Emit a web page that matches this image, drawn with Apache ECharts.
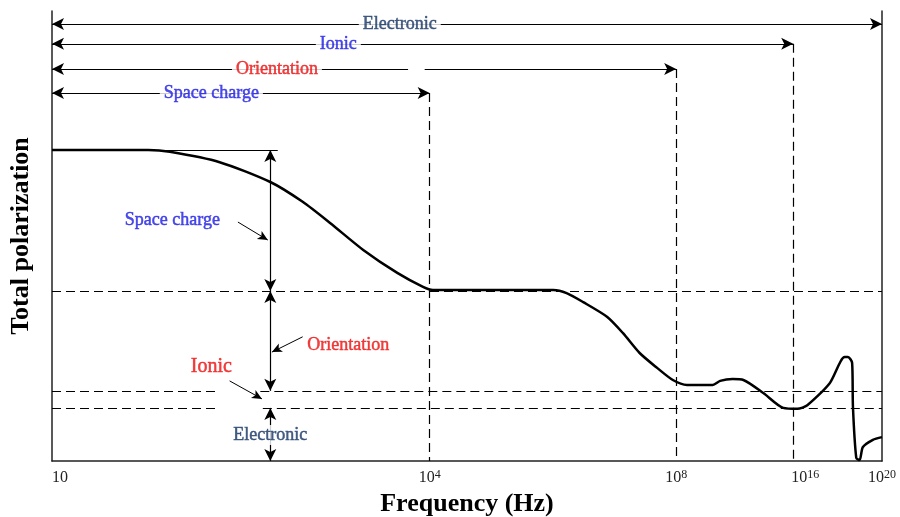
<!DOCTYPE html>
<html>
<head>
<meta charset="utf-8">
<script src="https://cdn.jsdelivr.net/npm/echarts@6/dist/echarts.min.js"></script>
<style>
  html, body { margin: 0; background: #fff; }
  #chart { width: 900px; height: 517px; }
</style>
</head>
<body>
<div id="chart"></div>
<script>
// schematic frequency position (0..100) vs total polarization (0..100)
const curveX = [0, 11.6, 14.2, 20.2, 26.3, 30.2, 33.5, 37.5, 41.6, 44.7, 45.9, 58.8, 60.4, 62.0, 64.0, 66.9, 68.8, 70.8, 72.9, 74.8, 76.5, 79.6, 80.5, 82.0, 83.3, 85.7, 88.1, 89.8, 91.0, 93.7, 95.5, 95.9, 96.4, 96.5, 96.9, 97.3, 97.7, 98.9, 100];
const curveY = [69.1, 69.1, 68.7, 66.4, 62.0, 57.6, 52.9, 46.9, 41.8, 38.7, 38.0, 38.0, 38.0, 37.3, 35.3, 32.0, 28.4, 24.0, 20.7, 18.0, 16.9, 16.9, 17.8, 18.2, 18.0, 15.1, 11.8, 11.6, 12.4, 17.3, 23.1, 23.1, 21.8, 12.0, 0.7, 0.2, 3.1, 4.7, 5.3];

// x-axis ticks: position and power of ten
const tickPos = [0, 45.5, 75.2, 89.3, 100];
const tickExp = [1, 4, 8, 16, 20];

// polarization levels
const levelSpace = 69.1, levelOrient = 37.8, levelIonic = 15.6, levelElec = 11.8;

// top ranges: name, end position, row height, label position
const rangeNames = ['Space charge', 'Orientation', 'Ionic', 'Electronic'];
const rangeEnd = [45.5, 75.2, 89.3, 100];
const rangeRow = [81.8, 87.1, 92.7, 97.1];
const rangeLabelX = [19.2, 27.1, 34.5, 41.9];
const rangeColor = ['#2020e6', '#ee1111', '#2020e6', '#1c3968'];

const arrowX = 26.3; // the vertical measuring arrows

const solid = { color: '#000', width: 1.2, type: 'solid' };
const dashed = { color: '#000', width: 1.2, type: [9, 5] };
const thin = { color: '#000', width: 1, type: 'solid' };

function seg(x1, y1, x2, y2, style, s1, s2, size) {
  return [
    { coord: [x1, y1], symbol: s1 || 'none', symbolSize: size || [9, 12] },
    { coord: [x2, y2], symbol: s2 || 'none', symbolSize: size || [9, 12], lineStyle: style }
  ];
}

const marks = [];
// top range arrows
rangeNames.forEach((n, i) => {
  if (n === 'Orientation') {
    marks.push(seg(0, rangeRow[i], 42.9, rangeRow[i], solid, 'arrow', 'none'));
    marks.push(seg(44.9, rangeRow[i], rangeEnd[i], rangeRow[i], solid, 'none', 'arrow'));
  } else {
    marks.push(seg(0, rangeRow[i], rangeEnd[i], rangeRow[i], solid, 'arrow', 'arrow'));
  }
});
// vertical dashed boundaries
for (let i = 0; i < 3; i++) marks.push(seg(rangeEnd[i], rangeRow[i], rangeEnd[i], 0, dashed));
// horizontal dashed levels
marks.push(seg(0, levelOrient, 100, levelOrient, dashed));
marks.push(seg(0, levelIonic, 20.0, levelIonic, dashed));
marks.push(seg(25.1, levelIonic, 100, levelIonic, dashed));
marks.push(seg(0, levelElec, 20.0, levelElec, dashed));
marks.push(seg(25.4, levelElec, 100, levelElec, dashed));
// top level line
marks.push(seg(0, levelSpace, 27.2, levelSpace, thin));
// vertical measuring arrows
marks.push(seg(arrowX, levelSpace, arrowX, levelOrient, solid, 'arrow', 'arrow'));
marks.push(seg(arrowX, levelOrient, arrowX, levelIonic, solid, 'arrow', 'arrow'));
marks.push(seg(arrowX, levelElec, arrowX, 0, solid, 'arrow', 'arrow'));
// pointers from the labels
marks.push(seg(22.4, 53.1, 26.0, 49.1, thin, 'none', 'arrow', [7, 10]));
marks.push(seg(30.2, 27.6, 26.5, 24.2, thin, 'none', 'arrow', [7, 10]));
marks.push(seg(21.4, 17.8, 25.3, 13.8, thin, 'none', 'arrow', [7, 10]));

const serif = '"Liberation Serif", "DejaVu Serif", serif';

const labels = rangeNames.map((n, i) => ({
  value: [rangeLabelX[i], rangeRow[i]],
  label: { formatter: n, color: rangeColor[i], textBorderColor: rangeColor[i] }
}));
labels.push({ value: [14.5, 53.6], label: { formatter: 'Space charge', color: '#2020e6', textBorderColor: '#2020e6' } });
labels.push({ value: [35.7, 25.8], label: { formatter: 'Orientation', color: '#ee1111', textBorderColor: '#ee1111', backgroundColor: 'transparent' } });
labels.push({ value: [19.2, 20.9], label: { formatter: 'Ionic', color: '#ee1111', textBorderColor: '#ee1111', fontSize: 20, backgroundColor: 'transparent' } });
labels.push({ value: [26.3, 5.8], label: { formatter: 'Electronic', color: '#1c3968', textBorderColor: '#1c3968' } });

const chart = echarts.init(document.getElementById('chart'));
const yAxisBase = {
  type: 'value', min: 0, max: 100,
  axisLine: { show: true, lineStyle: { color: '#222', width: 1.5 } },
  axisTick: { show: false }, axisLabel: { show: false }, splitLine: { show: false }
};

chart.setOption({
  animation: false,
  backgroundColor: '#fff',
  grid: { left: 52, right: 18, top: 11, bottom: 56, outerBoundsMode: 'none' },
  xAxis: {
    type: 'value', min: 0, max: 100,
    name: 'Frequency (Hz)', nameLocation: 'middle', nameGap: 20,
    nameTextStyle: { fontFamily: serif, fontWeight: 'bold', fontSize: 26, color: '#000' },
    axisLine: { show: true, onZero: false, lineStyle: { color: '#222', width: 1.5 } },
    axisTick: { show: false },
    splitLine: { show: false },
    axisLabel: {
      customValues: tickPos,
      margin: 8,
      formatter: v => {
        const e = tickExp[tickPos.indexOf(v)];
        if (e === 1) return '{f|10}';
        return (e === 16 ? '{g|10}' : '{b|10}') + '{s|' + e + '}';
      },
      rich: {
        b: { fontFamily: serif, fontSize: 16, color: '#222', lineHeight: 18 },
        f: { fontFamily: serif, fontSize: 16, color: '#222', lineHeight: 18, padding: [0, 0, 0, 16] },
        g: { fontFamily: serif, fontSize: 16, color: '#222', lineHeight: 18, padding: [0, 0, 0, 24] },
        s: { fontFamily: serif, fontSize: 12, color: '#222', verticalAlign: 'top', lineHeight: 12 }
      }
    }
  },
  yAxis: [
    Object.assign({}, yAxisBase, {
      name: 'Total polarization', nameLocation: 'middle', nameGap: 18,
      nameTextStyle: { fontFamily: serif, fontWeight: 'bold', fontSize: 26, color: '#000' }
    }),
    Object.assign({}, yAxisBase, { position: 'right' })
  ],
  series: [
    {
      type: 'line',
      z: 3,
      data: curveX.map((x, i) => [x, curveY[i]]),
      smooth: 0.25,
      symbol: 'none',
      lineStyle: { color: '#000', width: 2.5 },
      markLine: {
        silent: true,
        animation: false,
        label: { show: false },
        emphasis: { disabled: true },
        lineStyle: solid,
        data: marks
      }
    },
    {
      type: 'scatter',
      z: 10,
      symbolSize: 0,
      silent: true,
      data: labels,
      label: {
        show: true,
        position: 'inside',
        fontFamily: serif,
        fontSize: 18,
        textBorderWidth: 0.5,
        backgroundColor: '#fff',
        padding: [1, 4]
      }
    }
  ]
});
</script>
</body>
</html>
